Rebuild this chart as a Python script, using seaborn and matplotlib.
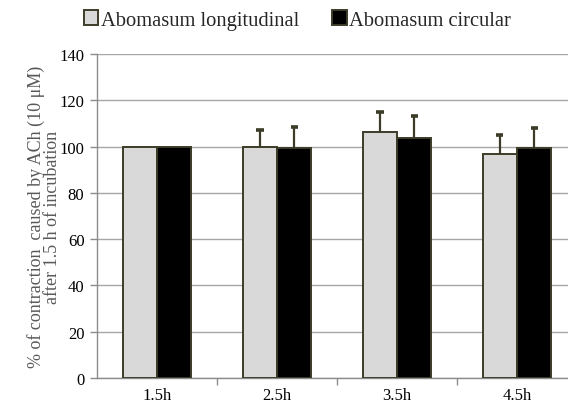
import matplotlib
matplotlib.use("Agg")
import matplotlib.pyplot as plt
import seaborn as sns
import pandas as pd
import numpy as np

categories = ["1.5h", "2.5h", "3.5h", "4.5h"]
series_names = ["Abomasum longitudinal", "Abomasum circular"]
longitudinal = [100, 100, 106.5, 97]
circular = [100, 99.5, 103.5, 99.5]
longitudinal_err = [0, 7, 8.5, 8]
circular_err = [0, 9, 9.5, 8.5]
y_ticks = [0, 20, 40, 60, 80, 100, 120, 140]

df = pd.DataFrame({
    "time": categories * 2,
    "series": [series_names[0]] * 4 + [series_names[1]] * 4,
    "value": longitudinal + circular,
})

sns.set_theme(style="white")
plt.rcParams["font.family"] = ["Liberation Serif", "DejaVu Serif"]

fig = plt.figure(figsize=(5.68, 4.06), dpi=100)
ax = fig.add_axes([97 / 568, 1 - 379 / 406, 480 / 568, 324 / 406])

edge = "#3c3c28"
sns.barplot(data=df, x="time", y="value", hue="series", order=categories,
            hue_order=series_names, palette=["#d9d9d9", "#000000"],
            width=0.57, gap=0, edgecolor=edge, linewidth=1.4, ax=ax,
            legend=True, zorder=3)

# upper-only error bars with caps, positioned from the drawn bars
errs = [longitudinal_err, circular_err]
for cont, err in zip(ax.containers, errs):
    for p, e in zip(cont, err):
        if e <= 0:
            continue
        xc = p.get_x() + p.get_width() / 2
        top = p.get_height()
        ax.vlines(xc, top, top + e, color=edge, linewidth=1.6, zorder=4)
        ax.hlines(top + e, xc - 0.03, xc + 0.03, color=edge, linewidth=2.6,
                  zorder=4)

ax.set_ylim(0, 140)
ax.set_xlim(-0.5, 3.5)
ax.set_yticks(y_ticks)
ax.set_yticklabels([str(t) for t in y_ticks])
ax.yaxis.grid(True, color="#a6a6a6", linewidth=1)
ax.set_axisbelow(True)
for s in ["top", "right"]:
    ax.spines[s].set_visible(False)
for s in ["left", "bottom"]:
    ax.spines[s].set_color("#8c8c8c")
    ax.spines[s].set_linewidth(1)

ax.tick_params(axis="y", which="major", left=True, length=5, width=1,
               color="#8c8c8c", labelsize=12, labelcolor="black", pad=4)
ax.tick_params(axis="x", which="major", bottom=False, length=0, labelsize=12,
               labelcolor="black", pad=6.5)
ax.set_xticks([0.5, 1.5, 2.5], minor=True)
ax.tick_params(axis="x", which="minor", bottom=True, length=5, width=1,
               color="#8c8c8c")

ax.set_xlabel("")
ax.set_ylabel("% of contraction  caused by ACh (10 \u03bcM)\nafter 1.5 h of incubation",
              fontsize=13, color="#595959", linespacing=0.95)
ax.yaxis.set_label_coords(-0.074, 0.5)

leg = ax.legend(loc="lower left", bbox_to_anchor=(-0.045, 1.05), ncol=2,
                frameon=False, fontsize=14.8, handlelength=0.72,
                handleheight=0.72, handletextpad=0.12, columnspacing=1.6,
                borderaxespad=0)
for h in leg.legend_handles:
    h.set_edgecolor(edge)
    h.set_linewidth(1.4)

fig.savefig("out.png", dpi=100)
